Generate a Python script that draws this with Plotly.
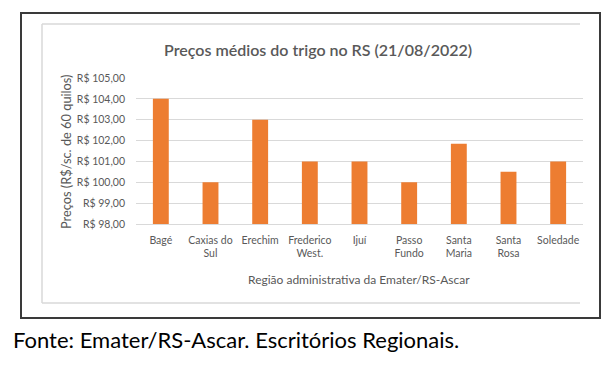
import plotly.graph_objects as go

categories = ["Bagé", "Caxias do<br>Sul", "Erechim", "Frederico<br>West.", "Ijuí",
              "Passo<br>Fundo", "Santa<br>Maria", "Santa<br>Rosa", "Soledade"]
prices = [104.0, 100.0, 103.0, 101.0, 101.0, 100.0, 101.85, 100.5, 101.0]
y_ticks = [98, 99, 100, 101, 102, 103, 104, 105]
y_ticktext = ["R$ %d,00" % v for v in y_ticks]

title_text = "Preços médios do trigo no RS (21/08/2022)"
x_title = "Região administrativa da Emater/RS-Ascar"
y_title = "Preços (R$/sc. de 60 quilos)"
source_text = "Fonte: Emater/RS-Ascar. Escritórios Regionais."

OFF = 8  # page body margin in the browser
W, H = 613 - OFF, 372 - OFF
L, R, T, B = 136 - OFF, 583 - OFF, 78 - OFF, 224 - OFF
FONT = "Lato, Open Sans, sans-serif"
GRAY = "#595959"

def px(x):
    return (x - OFF - L) / (R - L)

def py(y):
    return (B - (y - OFF)) / (B - T)

fig = go.Figure(go.Bar(x=categories, y=prices, marker_color="#ED7D31",
                       marker_line_width=0, width=0.32))

shapes = [
    # outer dark frame
    dict(type="rect", xref="paper", yref="paper", x0=px(21), x1=px(600), y0=py(318), y1=py(13),
         line=dict(color="#3a3a3a", width=2), layer="below"),
    # inner light chart-area frame (left, top, bottom)
    dict(type="line", xref="paper", yref="paper", x0=px(42), x1=px(42), y0=py(303), y1=py(24),
         line=dict(color="#d9d9d9", width=1.5)),
    dict(type="line", xref="paper", yref="paper", x0=px(42), x1=px(580), y0=py(24), y1=py(24),
         line=dict(color="#d9d9d9", width=1.5)),
    dict(type="line", xref="paper", yref="paper", x0=px(42), x1=px(580), y0=py(303), y1=py(303),
         line=dict(color="#d9d9d9", width=1.5)),
]

annotations = [
    dict(text=title_text, xref="paper", yref="paper", x=px(318), y=py(49), showarrow=False,
         font=dict(family=FONT, size=16, color=GRAY, weight=600), xanchor="center", yanchor="middle"),
    dict(text=x_title, xref="paper", yref="paper", x=px(359), y=py(279), showarrow=False,
         font=dict(family=FONT, size=12, color=GRAY), xanchor="center", yanchor="middle"),
    dict(text=y_title, xref="paper", yref="paper", x=px(66), y=py(152), showarrow=False,
         textangle=-90, font=dict(family=FONT, size=12.8, color=GRAY), xanchor="center", yanchor="middle"),
    dict(text=source_text, xref="paper", yref="paper", x=px(11), y=py(339), showarrow=False,
         font=dict(family=FONT, size=22, color="#000000"), xanchor="left", yanchor="middle"),
]

fig.update_layout(
    width=W, height=H,
    margin=dict(l=L, r=W - R, t=T, b=H - B, pad=0),
    paper_bgcolor="white", plot_bgcolor="white",
    showlegend=False,
    shapes=shapes, annotations=annotations,
    font=dict(family=FONT, size=11, color=GRAY),
    bargap=0.68,
)
fig.update_xaxes(showgrid=False, showline=True, linecolor="#d9d9d9", linewidth=1,
                 ticks="", tickfont=dict(family=FONT, size=10.5, color=GRAY), ticklabelstandoff=6)
fig.update_yaxes(range=[98, 105], tickvals=y_ticks, ticktext=y_ticktext, showgrid=True,
                 gridcolor="#d9d9d9", gridwidth=1, zeroline=False, showline=False, ticks="",
                 tickfont=dict(family=FONT, size=10.5, color=GRAY), ticklabelstandoff=10)

fig.write_html("out.html")
